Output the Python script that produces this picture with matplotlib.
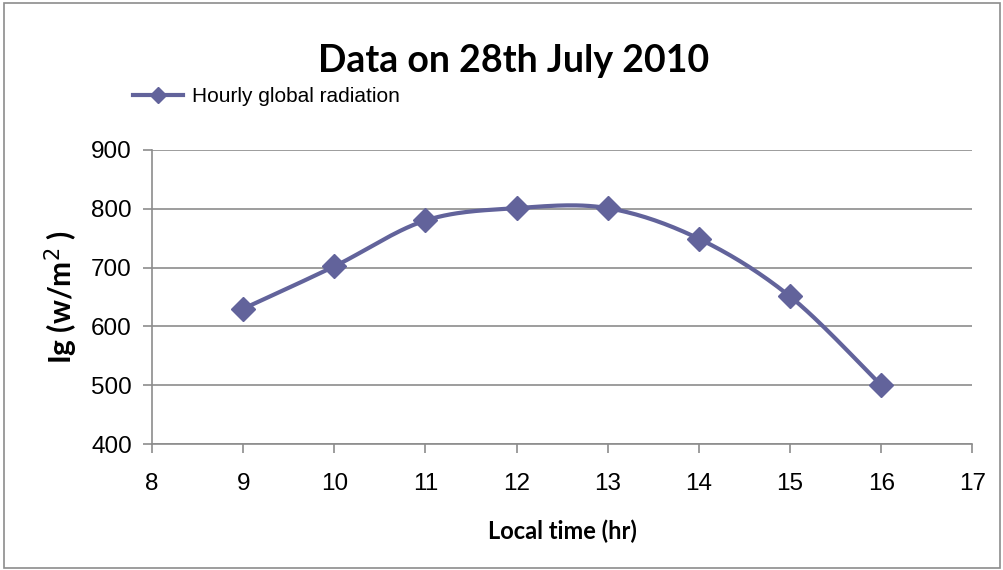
import numpy as np
import matplotlib.pyplot as plt
from matplotlib.patches import Rectangle

hours = [9, 10, 11, 12, 13, 14, 15, 16]
radiation = [630, 702, 780, 801, 801, 749, 651, 500]
x_ticks = list(range(8, 18))
y_ticks = [400, 500, 600, 700, 800, 900]

line_color = '#62639B'
grid_color = '#8C8C8C'


def suavizar(x, y, n=30):
    # curva tipo Excel: bezier con puntos de control estilo Catmull-Rom
    x = np.asarray(x, float)
    y = np.asarray(y, float)
    px = np.concatenate([[x[0]], x, [x[-1]]])
    py = np.concatenate([[y[0]], y, [y[-1]]])
    xs, ys = [], []
    t = np.linspace(0, 1, n)
    for i in range(1, len(px) - 2):
        p0 = np.array([px[i], py[i]])
        p3 = np.array([px[i + 1], py[i + 1]])
        c1 = p0 + (np.array([px[i + 1], py[i + 1]]) - np.array([px[i - 1], py[i - 1]])) / 6
        c2 = p3 - (np.array([px[i + 2], py[i + 2]]) - np.array([px[i], py[i]])) / 6
        b = ((1 - t) ** 3)[:, None] * p0 + (3 * (1 - t) ** 2 * t)[:, None] * c1 \
            + (3 * (1 - t) * t ** 2)[:, None] * c2 + (t ** 3)[:, None] * p3
        xs.extend(b[:, 0])
        ys.extend(b[:, 1])
    return xs, ys


plt.rcParams['font.family'] = ['Liberation Sans', 'DejaVu Sans']

fig = plt.figure(figsize=(10.04, 5.70), dpi=100)
ax = fig.add_axes([0.1514, 0.221, 0.817, 0.516])

sx, sy = suavizar(hours, radiation)
ax.plot(sx, sy, color=line_color, lw=3, solid_capstyle='round', zorder=3)
ax.plot(hours, radiation, linestyle='none', marker='D', markersize=12.5,
        color=line_color, zorder=4)

ax.set_xlim(8, 17)
ax.set_ylim(400, 900)
ax.set_xticks(x_ticks)
ax.set_yticks(y_ticks)
ax.tick_params(axis='both', labelsize=17.5, length=6.5, width=1.2,
               color=grid_color, direction='out')
ax.tick_params(axis='y', pad=8)
ax.tick_params(axis='x', pad=14)
ax.grid(axis='y', color=grid_color, lw=1.2)
ax.set_axisbelow(True)
for lado in ['top', 'right']:
    ax.spines[lado].set_visible(False)
for lado in ['left', 'bottom']:
    ax.spines[lado].set_color(grid_color)
    ax.spines[lado].set_linewidth(1.2)

ax.set_xlabel('Local time (hr)', fontsize=17, fontweight='bold',
              family=['Lato', 'DejaVu Sans'], labelpad=18)
ax.set_ylabel('Ig (w/m$^2$ )', fontsize=21.5, fontweight='bold',
              family=['Lato', 'DejaVu Sans'], labelpad=8)

fig.text(0.512, 0.893, 'Data on 28th July 2010', ha='center', va='center',
         fontsize=27, fontweight='bold', family=['Lato', 'DejaVu Sans'])

ax.plot([], [], color=line_color, lw=3, marker='D', markersize=8,
        label='Hourly global radiation')
ax.legend(loc='center left', bbox_to_anchor=(0.132, 0.831), bbox_transform=fig.transFigure,
          frameon=False, fontsize=15, handlelength=2.4, handletextpad=0.45,
          borderpad=0, borderaxespad=0)

fig.patches.append(Rectangle((0.004, 0.004), 0.992, 0.99, transform=fig.transFigure,
                             fill=False, edgecolor='#8C8C8C', lw=1.2))

fig.savefig('out.png', dpi=100)
